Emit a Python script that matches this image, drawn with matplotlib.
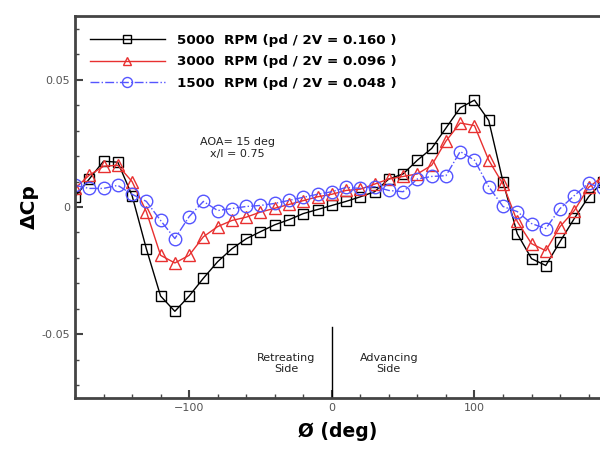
import numpy as np
import matplotlib.pyplot as plt
from matplotlib.ticker import MultipleLocator

# azimuth angle (deg)
phi = np.arange(-180, 200, 10)

# delta Cp
cp_5000 = [0.004, 0.011, 0.018, 0.0176, 0.0045, -0.0164, -0.035, -0.041, -0.035, -0.028,
           -0.0215, -0.0164, -0.0125, -0.0097, -0.007, -0.005, -0.0026, -0.001, 0.0006, 0.0022,
           0.004, 0.006, 0.011, 0.013, 0.0184, 0.023, 0.031, 0.039, 0.042, 0.034,
           0.010, -0.0105, -0.0203, -0.023, -0.0136, -0.0045, 0.004, 0.010]
cp_3000 = [0.0073, 0.0125, 0.016, 0.0164, 0.010, -0.0018, -0.019, -0.022, -0.019, -0.0117,
           -0.0077, -0.0053, -0.004, -0.002, -0.0005, 0.001, 0.0025, 0.004, 0.005, 0.0065,
           0.007, 0.009, 0.011, 0.012, 0.013, 0.0164, 0.0259, 0.033, 0.032, 0.0184,
           0.009, -0.0057, -0.0144, -0.0172, -0.0077, -0.0014, 0.0077, 0.012]
cp_1500 = [0.0085, 0.0073, 0.0073, 0.0085, 0.005, 0.0022, -0.0053, -0.0124, -0.0038, 0.0022,
           -0.0014, -0.0006, 0.0002, 0.0006, 0.0014, 0.0026, 0.0038, 0.005, 0.006, 0.0077,
           0.0073, 0.008, 0.0065, 0.006, 0.011, 0.012, 0.0123, 0.0218, 0.0184, 0.008,
           0.0002, -0.0018, -0.0065, -0.0085, -0.0006, 0.0045, 0.0093, 0.0073]

labels = ["5000  RPM (pd / 2V = 0.160 )",
          "3000  RPM (pd / 2V = 0.096 )",
          "1500  RPM (pd / 2V = 0.048 )"]

fig = plt.figure(figsize=(6, 4.49), dpi=100)
ax = fig.add_axes([0.125, 0.114, 0.875, 0.85])

ax.plot(phi, cp_5000, color='black', lw=1, marker='s', ms=6.5, mfc='none', mew=1, label=labels[0])
ax.plot(phi, cp_3000, color='#e83030', lw=1, marker='^', ms=8, mfc='none', mew=1, label=labels[1])
ax.plot(phi, cp_1500, color='#5555ff', lw=1, ls='-.', marker='o', ms=9, mfc='none', mew=1,
        label=labels[2])

ax.set_xlim(-180, 188)
ax.set_ylim(-0.075, 0.075)
ax.axvline(0, ymin=0, ymax=(0.075 - 0.047) / 0.15, color='black', lw=1)

ax.text(-32, -0.0615, "Retreating\nSide", ha='center', va='center', fontsize=8, color='#222222')
ax.text(40, -0.0615, "Advancing\nSide", ha='center', va='center', fontsize=8, color='#222222')
ax.text(-66, 0.0233, "AOA= 15 deg\nx/l = 0.75", ha='center', va='center', fontsize=8,
        color='#222222', linespacing=1.3)

ax.xaxis.set_major_locator(MultipleLocator(100))
ax.xaxis.set_minor_locator(MultipleLocator(20))
ax.yaxis.set_minor_locator(MultipleLocator(0.01))
ax.set_yticks([-0.05, 0, 0.05])
ax.set_yticklabels(['-0.05', '0', '0.05'])
ax.tick_params(which='both', direction='in', colors='#444444', labelcolor='#555555',
               labelsize=8, top=False, right=False)
ax.tick_params(which='major', length=6, width=1.5)
ax.tick_params(which='minor', length=3, width=1)

for s in ['left', 'bottom', 'top']:
    ax.spines[s].set_linewidth(2)
    ax.spines[s].set_color('#444444')
ax.spines['right'].set_visible(False)

ax.set_xlabel("Ø (deg)", fontsize=13.5, fontweight='bold', labelpad=7)
ax.set_ylabel("ΔCp", fontsize=14.5, fontweight='bold', labelpad=2)

leg = ax.legend(loc='upper left', bbox_to_anchor=(0.005, 0.985), frameon=False,
                prop={'weight': 'bold', 'size': 9.7}, handlelength=5.6, labelspacing=0.62,
                handletextpad=0.9, markerscale=0.8)

fig.savefig("out.png", dpi=100)
